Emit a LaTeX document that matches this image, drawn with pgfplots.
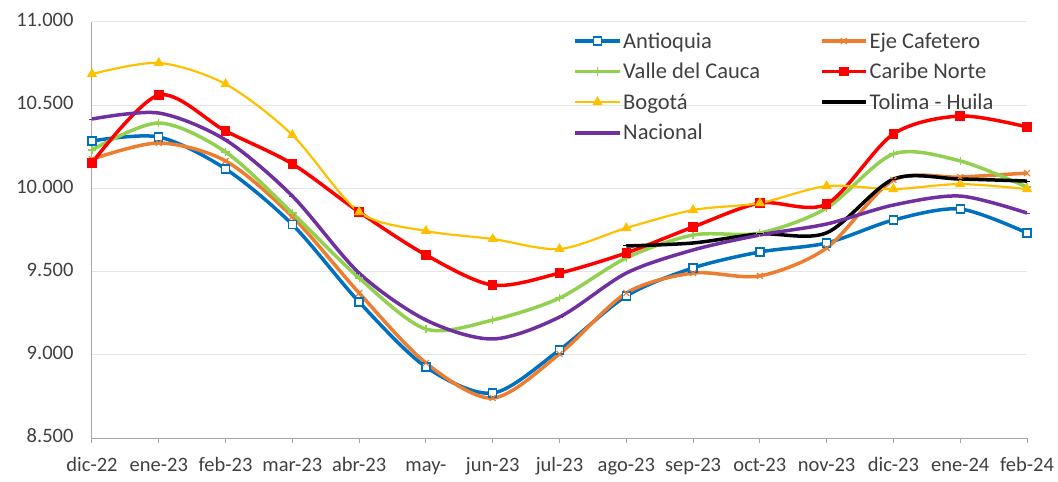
\documentclass[border=0pt]{standalone}
\usepackage{fontspec}
\setmainfont{Carlito}
\usepackage{pgfplots}
\pgfplotsset{compat=1.18}
\definecolor{cAnt}{HTML}{0070C0}
\definecolor{cEje}{HTML}{ED7D31}
\definecolor{cVal}{HTML}{92D050}
\definecolor{cCar}{HTML}{FF0000}
\definecolor{cBog}{HTML}{FFC000}
\definecolor{cTol}{HTML}{000000}
\definecolor{cNac}{HTML}{7030A0}
\definecolor{cGrid}{HTML}{E6E6E6}
\definecolor{cAxis}{HTML}{A6A6A6}
\definecolor{cText}{HTML}{404040}
\begin{document}
\begin{tikzpicture}
\begin{axis}[
  scale only axis,
  width=935bp, height=416bp,
  at={(0,0)}, anchor=south west,
  xmin=0, xmax=14, ymin=8500, ymax=11000,
  axis x line*=bottom, axis y line*=left,
  axis line style={draw=cAxis, line width=1bp, -},
  xtick={0,...,14},
  xticklabels={dic-22,ene-23,feb-23,mar-23,abr-23,may-,jun-23,jul-23,ago-23,sep-23,oct-23,nov-23,dic-23,ene-24,feb-24},
  ytick={8500,9000,...,11000},
  scaled y ticks=false,
  ymajorgrids, grid style={draw=cGrid, line width=1bp},
  xtick align=outside, major tick length=5bp,
  xtick style={draw=cAxis, line width=1bp},
  ytick style={draw=none},
  tick label style={font=\fontsize{20.5bp}{24bp}\selectfont, text=cText},
  typeset ticklabels with strut,
  yticklabel style={xshift=-15bp},
  xticklabel style={yshift=-8bp},
  /pgf/number format/.cd, fixed, precision=0, 1000 sep={.}, assume math mode=true,
  /pgfplots/.cd,
  legend columns=2,
  legend cell align=left,
  legend style={at={(0.515,0.98)}, anchor=north west, draw=none, fill=none,
    font=\fontsize{22.5bp}{26bp}\selectfont, text=cText,
    /tikz/every even column/.append style={column sep=58bp},
    row sep=9.5bp, inner sep=0pt},
  legend image code/.code={\draw[mark repeat=2,mark phase=2,#1] plot coordinates {(0bp,0bp) (22bp,0bp) (44bp,0bp)};},
  every axis plot/.append style={smooth, tension=0.5},
]
\addplot[cAnt, line width=3.5bp, mark=square*, mark size=4bp, mark options={solid, fill=white, draw=cAnt, line width=1.3bp}] coordinates {
(0,10285) (1,10309) (2,10117) (3,9783) (4,9317) (5,8927) (6,8770) (7,9029) (8,9353) (9,9522) (10,9618) (11,9672) (12,9810) (13,9876) (14,9732)};
\addlegendentry{Antioquia}
\addplot[cEje, line width=3.5bp, mark=x, mark size=4.2bp, mark options={solid, draw=cEje, line width=1.2bp}] coordinates {
(0,10175) (1,10273) (2,10165) (3,9830) (4,9371) (5,8951) (6,8740) (7,9005) (8,9371) (9,9491) (10,9474) (11,9642) (12,10050) (13,10068) (14,10092)};
\addlegendentry{Eje Cafetero}
\addplot[cVal, line width=3.5bp, mark=+, mark size=4.2bp, mark options={solid, draw=cVal, line width=1.2bp}] coordinates {
(0,10231) (1,10393) (2,10219) (3,9852) (4,9461) (5,9155) (6,9209) (7,9341) (8,9582) (9,9720) (10,9732) (11,9882) (12,10207) (13,10165) (14,10008)};
\addlegendentry{Valle del Cauca}
\addplot[cCar, line width=3.5bp, mark=square*, mark size=3bp, mark options={solid, fill=cCar, draw=cCar}] coordinates {
(0,10153) (1,10561) (2,10345) (3,10147) (4,9858) (5,9600) (6,9419) (7,9491) (8,9612) (9,9768) (10,9912) (11,9906) (12,10327) (13,10435) (14,10369)};
\addlegendentry{Caribe Norte}
\addplot[cBog, line width=2.2bp, mark=triangle*, mark size=3.8bp, mark options={solid, fill=cBog, draw=cBog}] coordinates {
(0,10687) (1,10754) (2,10627) (3,10321) (4,9858) (5,9744) (6,9696) (7,9636) (8,9762) (9,9870) (10,9912) (11,10014) (12,9996) (13,10026) (14,9996)};
\addlegendentry{Bogotá}
\addplot[cTol, line width=3.5bp, mark=-, mark size=3bp, mark options={solid, draw=cTol, line width=1bp}] coordinates {
(8,9654) (9,9672) (10,9726) (11,9733) (12,10056) (13,10056) (14,10044)};
\addlegendentry{Tolima - Huila}
\addplot[cNac, line width=3.5bp, mark=-, mark size=3bp, mark options={solid, draw=cNac, line width=1bp}] coordinates {
(0,10417) (1,10453) (2,10291) (3,9954) (4,9491) (5,9209) (6,9095) (7,9227) (8,9491) (9,9630) (10,9720) (11,9786) (12,9900) (13,9954) (14,9852)};
\addlegendentry{Nacional}
\end{axis}
\path (-92bp,-40bp) rectangle (966bp,438bp);
\end{tikzpicture}
\end{document}
